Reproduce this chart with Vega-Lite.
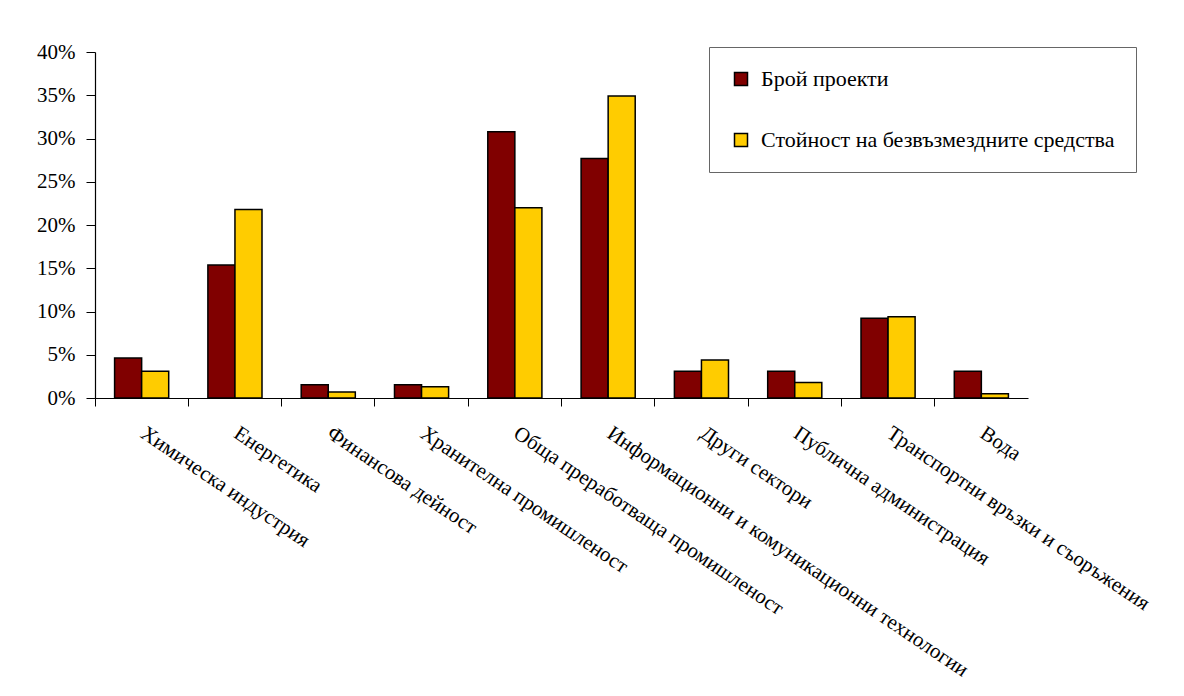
{
  "$schema": "https://vega.github.io/schema/vega-lite/v6.json",
  "width": 933,
  "height": 346,
  "autosize": {"type": "none"},
  "padding": {"left": 95, "top": 52, "right": 156, "bottom": 298},
  "background": "white",
  "config": {
    "view": {"stroke": null},
    "font": "Liberation Serif",
    "axis": {"labelFont": "Liberation Serif", "labelColor": "black", "domainColor": "black", "tickColor": "black", "grid": false, "title": null}
  },
  "data": {
    "values": [
      {"sector": "Химическа индустрия", "series": "Брой проекти", "value": 0.0462},
      {"sector": "Химическа индустрия", "series": "Стойност на безвъзмездните средства", "value": 0.031},
      {"sector": "Енергетика", "series": "Брой проекти", "value": 0.1538},
      {"sector": "Енергетика", "series": "Стойност на безвъзмездните средства", "value": 0.218},
      {"sector": "Финансова дейност", "series": "Брой проекти", "value": 0.0154},
      {"sector": "Финансова дейност", "series": "Стойност на безвъзмездните средства", "value": 0.007},
      {"sector": "Хранителна промишленост", "series": "Брой проекти", "value": 0.0154},
      {"sector": "Хранителна промишленост", "series": "Стойност на безвъзмездните средства", "value": 0.013},
      {"sector": "Обща преработваща промишленост", "series": "Брой проекти", "value": 0.3077},
      {"sector": "Обща преработваща промишленост", "series": "Стойност на безвъзмездните средства", "value": 0.220},
      {"sector": "Информационни и комуникационни технологии", "series": "Брой проекти", "value": 0.2769},
      {"sector": "Информационни и комуникационни технологии", "series": "Стойност на безвъзмездните средства", "value": 0.349},
      {"sector": "Други сектори", "series": "Брой проекти", "value": 0.0308},
      {"sector": "Други сектори", "series": "Стойност на безвъзмездните средства", "value": 0.044},
      {"sector": "Публична администрация", "series": "Брой проекти", "value": 0.0308},
      {"sector": "Публична администрация", "series": "Стойност на безвъзмездните средства", "value": 0.018},
      {"sector": "Транспортни връзки и съоръжения", "series": "Брой проекти", "value": 0.0923},
      {"sector": "Транспортни връзки и съоръжения", "series": "Стойност на безвъзмездните средства", "value": 0.094},
      {"sector": "Вода", "series": "Брой проекти", "value": 0.0308},
      {"sector": "Вода", "series": "Стойност на безвъзмездните средства", "value": 0.005}
    ]
  },
  "resolve": {"axis": {"x": "independent"}},
  "layer": [
    {
      "mark": {"type": "bar", "stroke": "black", "strokeWidth": 1.5},
      "encoding": {
        "x": {
          "field": "sector", "type": "nominal", "sort": null,
          "scale": {"paddingInner": 0.42, "paddingOuter": 0.21},
          "axis": {"orient": "bottom", "labelAngle": 34, "labelAlign": "left", "labelBaseline": "top", "labelPadding": 24, "labelOffset": 7, "labelFontSize": 21, "labelLimit": 520, "ticks": false, "domain": true, "domainWidth": 1.2}
        },
        "xOffset": {"field": "series", "type": "nominal", "sort": null},
        "y": {
          "field": "value", "type": "quantitative",
          "scale": {"domain": [0, 0.4], "nice": false},
          "axis": {"values": [0, 0.05, 0.1, 0.15, 0.2, 0.25, 0.3, 0.35, 0.4], "format": ".0%", "labelFontSize": 21, "tickSize": 9, "labelPadding": 11, "domainWidth": 1.2}
        },
        "color": {
          "field": "series", "type": "nominal", "sort": null,
          "scale": {"range": ["#800000", "#FFCC00"]},
          "legend": {
            "title": null, "orient": "none", "legendX": 614, "legendY": -5,
            "symbolType": "square", "symbolSize": 169, "symbolStrokeColor": "black", "symbolStrokeWidth": 1.5,
            "labelFontSize": 22, "labelFont": "Liberation Serif", "labelColor": "black", "labelOffset": 9, "labelLimit": 500,
            "rowPadding": 39, "padding": 21, "strokeColor": "#666666", "fillColor": "white"
          }
        }
      }
    },
    {
      "mark": {"type": "point", "opacity": 0},
      "encoding": {
        "x": {
          "field": "sector", "type": "nominal", "sort": null,
          "axis": {"orient": "bottom", "bandPosition": -0.362, "labels": false, "ticks": true, "tickSize": 8, "domain": false}
        }
      }
    }
  ]
}
